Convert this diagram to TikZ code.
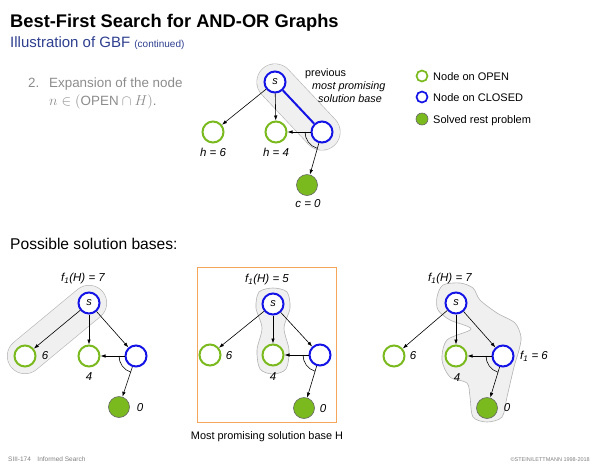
\documentclass[tikz,border=0pt]{standalone}
\usepackage{fontspec}
\setmainfont{Liberation Sans}
\usepackage{amssymb,amsmath}
\usepackage{tikz}
\usetikzlibrary{arrows.meta, backgrounds}
\definecolor{ogreen}{RGB}{122,186,30}
\definecolor{cblue}{RGB}{20,20,230}
\definecolor{hblue}{RGB}{46,63,143}
\definecolor{hbox}{RGB}{245,166,91}
\tikzset{% 
	>={Latex[length=5pt,width=3.5pt]},
	every edge/.append style={line width = 0.6pt},
	opn/.style = {name = #1, circle, draw = ogreen, line width = 2pt, fill = white, minimum size = 21pt, inner sep = 0pt},
	cls/.style = {name = #1, circle, draw = cblue, line width = 2pt, fill = white, minimum size = 21pt, inner sep = 0pt, font = \fontsize{11}{13}\selectfont\itshape},
	sol/.style = {name = #1, circle, draw = black!60, line width = 0.6pt, fill = ogreen, minimum size = 21pt, inner sep = 0pt},
	lbl/.style = {font = \fontsize{11.5}{13}\selectfont\itshape},
	txt/.style = {anchor = base west, inner sep = 0pt},
	blob/.style = {draw = black!30, fill = black!6, line width = 0.6pt},
	andarc/.style = {line width = 0.6pt}
}
\begin{document}
\begin{tikzpicture}[x=1pt, y=1pt]
			\useasboundingbox (0,0) rectangle (600,-467);
			\node [txt, font = \fontsize{18.3}{21}\selectfont\bfseries] (title) at (10,-27) {Best-First Search for AND-OR Graphs};
			\node [txt, text = hblue, font = \fontsize{15}{17}\selectfont] (subtitle) at (10,-47) {Illustration of GBF {\fontsize{10}{12}\selectfont(continued)}};
			\node [txt, text = black!45, font = \fontsize{13.4}{15}\selectfont] (step) at (28,-87) {2.};
			\node [txt, text = black!45, font = \fontsize{13.4}{15}\selectfont] (stepa) at (49,-87) {Expansion of the node};
			\node [txt, text = black!45, font = \fontsize{13.4}{15}\selectfont] (stepb) at (49,-105) {$n \in (\mbox{OPEN} \cap H)$.};
			\node [txt, font = \fontsize{15.6}{18}\selectfont] (bases) at (10,-249) {Possible solution bases:};
			\node [txt, text = black!50, font = \fontsize{6.5}{8}\selectfont] (foot) at (8,-461) {SIII-174\quad Informed Search};
			\node [anchor = base east, inner sep = 0pt, text = black!50, font = \fontsize{5.5}{7}\selectfont] (copy) at (590,-461) {\textcopyright STEIN/LETTMANN 1998-2018};

			\node [opn = {k1}, minimum size = 11pt, line width = 1.7pt] at (422,-76) {};
			\node [cls = {k2}, minimum size = 11pt, line width = 1.7pt] at (422,-97) {};
			\node [sol = {k3}, minimum size = 12pt] at (422,-119) {};
			\node [txt, font = \fontsize{11}{13}\selectfont] (k1t) at (433,-80) {Node on OPEN};
			\node [txt, font = \fontsize{11}{13}\selectfont] (k2t) at (433,-101) {Node on CLOSED};
			\node [txt, font = \fontsize{11}{13}\selectfont] (k3t) at (433,-123) {Solved rest problem};

			\node [cls = {s0}] at (275,-82) {s};
			\node [opn = {a0}] at (213,-132) {};
			\node [opn = {b0}] at (276,-132) {};
			\node [cls = {c0}] at (322,-132) {};
			\node [sol = {d0}] at (307,-185) {};
			\node [lbl] (a0h) at (213,-152) {h = 6};
			\node [lbl] (b0h) at (276,-152) {h = 4};
			\node [lbl] (d0h) at (308,-204) {c = 0};
			\node [txt, font = \fontsize{10.8}{13}\selectfont] (prev) at (305,-76) {previous};
			\node [txt, font = \fontsize{10.8}{13}\selectfont\itshape] (prevb) at (312,-89) {most promising};
			\node [txt, font = \fontsize{10.8}{13}\selectfont\itshape] (prevc) at (318,-102) {solution base};
			\path [->] (s0) edge (a0);
			\path [->] (s0) edge (b0);
			\path [->] (c0) edge (b0);
			\path [->] (c0) edge (d0);
			\draw [cblue, line width = 2pt] (s0) -- (c0);
			\draw [andarc] ([shift={(180:17pt)}]c0.center) arc [start angle = 180, end angle = 253, radius = 17pt];
			\begin{scope}[on background layer]
				\draw [line width = 37pt, line cap = round, black!30] (s0.center) -- (c0.center);
				\draw [line width = 35.8pt, line cap = round, black!6] (s0.center) -- (c0.center);
			\end{scope}

			\node [cls = {s1}] at (89,-303) {s};
			\node [opn = {a1}] at (25,-356) {};
			\node [opn = {b1}] at (89,-356) {};
			\node [cls = {c1}] at (136,-356) {};
			\node [sol = {d1}] at (119,-407) {};
			\node [lbl] (f1) at (83,-279) {f\textsubscript{1}(H) = 7};
			\node [lbl] (a1h) at (45,-356) {6};
			\node [lbl] (b1h) at (89,-377) {4};
			\node [lbl] (d1h) at (140,-408) {0};
			\path [->] (s1) edge (a1);
			\path [->] (s1) edge (b1);
			\path [->] (s1) edge (c1);
			\path [->] (c1) edge (b1);
			\path [->] (c1) edge (d1);
			\draw [andarc] ([shift={(180:17pt)}]c1.center) arc [start angle = 180, end angle = 253, radius = 17pt];
			\begin{scope}[on background layer]
				\draw [line width = 36pt, line cap = round, black!30] (s1.center) -- (a1.center);
				\draw [line width = 34.8pt, line cap = round, black!6] (s1.center) -- (a1.center);
			\end{scope}

			\draw [hbox, line width = 0.8pt] (197,-267) rectangle (336,-422);
			\node [cls = {s2}] at (273,-304) {s};
			\node [opn = {a2}] at (210,-355) {};
			\node [opn = {b2}] at (273,-355) {};
			\node [cls = {c2}] at (320,-355) {};
			\node [sol = {d2}] at (304,-408) {};
			\node [lbl] (f2) at (267,-280) {f\textsubscript{1}(H) = 5};
			\node [lbl] (a2h) at (229,-356) {6};
			\node [lbl] (b2h) at (273,-377) {4};
			\node [lbl] (d2h) at (323,-409) {0};
			\node [font = \fontsize{10.9}{13}\selectfont] (cap) at (267,-437) {Most promising solution base H};
			\path [->] (s2) edge (a2);
			\path [->] (s2) edge (b2);
			\path [->] (s2) edge (c2);
			\path [->] (c2) edge (b2);
			\path [->] (c2) edge (d2);
			\draw [andarc] ([shift={(180:17pt)}]c2.center) arc [start angle = 180, end angle = 253, radius = 17pt];
			\begin{scope}[on background layer]
				\draw [blob] plot [smooth cycle] coordinates {(273,-288) (287,-292) (290,-308) (284,-328) (289,-350) (286,-369) (273,-374) (260,-369) (257,-350) (262,-328) (256,-308) (259,-292)};
			\end{scope}

			\node [cls = {s3}] at (456,-303) {s};
			\node [opn = {a3}] at (394,-356) {};
			\node [opn = {b3}] at (456,-356) {};
			\node [cls = {c3}] at (503,-356) {};
			\node [sol = {d3}] at (487,-408) {};
			\node [lbl] (f3) at (450,-279) {f\textsubscript{1}(H) = 7};
			\node [lbl] (a3h) at (413,-356) {6};
			\node [lbl] (b3h) at (457,-378) {4};
			\node [lbl] (d3h) at (507,-408) {0};
			\node [lbl] (c3h) at (534,-356) {f\textsubscript{1} = 6};
			\path [->] (s3) edge (a3);
			\path [->] (s3) edge (b3);
			\path [->] (s3) edge (c3);
			\path [->] (c3) edge (b3);
			\path [->] (c3) edge (d3);
			\draw [andarc] ([shift={(180:17pt)}]c3.center) arc [start angle = 180, end angle = 253, radius = 17pt];
			\begin{scope}[on background layer]
				\draw [blob] plot [smooth cycle] coordinates {(437,-297) (443,-285) (460,-283) (473,-288) (480,-300) (497,-313) (515,-323) (521,-337) (519,-350) (514,-367) (507,-397) (502,-417) (487,-422) (473,-417) (470,-397) (467,-383) (450,-377) (442,-360) (447,-340) (471,-329) (450,-320) (438,-310)};
			\end{scope}
			\end{tikzpicture}
\end{document}
